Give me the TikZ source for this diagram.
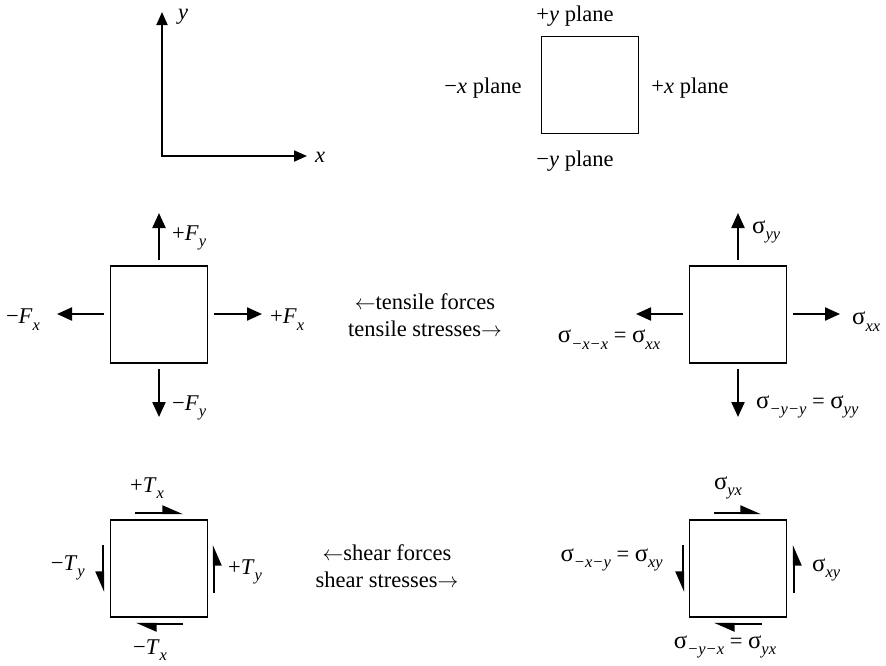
\documentclass[tikz,border=0pt]{standalone}
\usepackage{fontspec}
\setmainfont{Liberation Serif}
\usetikzlibrary{arrows.meta}
\newcommand{\sbs}[1]{\raisebox{-0.3em}{\fontsize{16.5}{17}\selectfont\itshape #1}}
\newcommand{\sig}{\scalebox{1.1}{σ}}
\begin{document}
\begin{tikzpicture}[x=1pt,y=1pt,
  every node/.style={inner sep=0pt,font=\fontsize{22.5}{27}\selectfont},
  sq/.style={draw,line width=1.8pt,minimum size=97pt,inner sep=0pt},
  axisarr/.style={line width=1.8pt,{Triangle[length=13pt,width=11pt]}-{Triangle[length=13pt,width=11pt]}},
  force/.style={line width=2.2pt,-{Triangle[length=15pt,width=13pt]}},
  shl/.style={line width=2.2pt,-{Triangle[length=18pt,width=15pt,harpoon]}},
  shr/.style={line width=2.2pt,-{Triangle[length=18pt,width=15pt,harpoon,swap]}}]
\useasboundingbox (0,0) rectangle (886,-665);

% axes
\coordinate (O) at (162,-156);
\coordinate (YT) at (162,-12);
\coordinate (XT) at (307,-156);
\draw[axisarr] (YT) -- (O) -- (XT);
\node (ly) at (183,-17) {\textit{y}};
\node (lx) at (320,-157) {\textit{x}};

% planes
\node[sq] (P) at (590,-85) {};
\node (py) at (575,-16) {+\textit{y} plane};
\node (mx) at (483,-88) {−\textit{x} plane};
\node (px) at (690,-88) {+\textit{x} plane};
\node (my) at (575,-161) {−\textit{y} plane};

% tensile forces
\node[sq] (A) at (159,-314.5) {};
\coordinate (A1s) at (159,-260); \coordinate (A1e) at (159,-213);
\coordinate (A2s) at (214,-314); \coordinate (A2e) at (262,-314);
\coordinate (A3s) at (104,-314); \coordinate (A3e) at (57,-314);
\coordinate (A4s) at (159,-369); \coordinate (A4e) at (159,-417);
\draw[force] (A1s) -- (A1e);
\draw[force] (A2s) -- (A2e);
\draw[force] (A3s) -- (A3e);
\draw[force] (A4s) -- (A4e);
\node[anchor=west] (Fy) at (172,-238) {+\textit{F}\sbs{y}};
\node[anchor=west] (Fx) at (270,-320) {+\textit{F}\sbs{x}};
\node (mFx) at (23,-320) {−\textit{F}\sbs{x}};
\node[anchor=west] (mFy) at (172,-408) {−\textit{F}\sbs{y}};

\node[align=center] (tens) at (425,-315.5) {$\leftarrow$tensile forces\\tensile stresses$\rightarrow$};

% tensile stresses
\node[sq] (B) at (738,-314.5) {};
\coordinate (B1s) at (738,-260); \coordinate (B1e) at (738,-213);
\coordinate (B2s) at (793,-314); \coordinate (B2e) at (840,-314);
\coordinate (B3s) at (683,-314); \coordinate (B3e) at (636,-314);
\coordinate (B4s) at (738,-369); \coordinate (B4e) at (738,-417);
\draw[force] (B1s) -- (B1e);
\draw[force] (B2s) -- (B2e);
\draw[force] (B3s) -- (B3e);
\draw[force] (B4s) -- (B4e);
\node[anchor=west] (syy) at (752,-232) {\sig\sbs{yy}};
\node[anchor=west] (sxx) at (852,-322) {\sig\sbs{xx}};
\node (smxx) at (609,-340) {\sig\sbs{−x−x} = \sig\sbs{xx}};
\node[anchor=west] (smyy) at (756,-407) {\sig\sbs{−y−y} = \sig\sbs{yy}};

% shear forces
\node[sq] (C) at (159,-568.5) {};
\coordinate (C1s) at (135,-513); \coordinate (C1e) at (183,-513);
\coordinate (C2s) at (214,-593); \coordinate (C2e) at (214,-545);
\coordinate (C3s) at (103,-545); \coordinate (C3e) at (103,-592);
\coordinate (C4s) at (183,-624); \coordinate (C4e) at (136,-624);
\draw[shl] (C1s) -- (C1e);
\draw[shr] (C2s) -- (C2e);
\draw[shr] (C3s) -- (C3e);
\draw[shl] (C4s) -- (C4e);
\node (Tx) at (147,-488) {+\textit{T}\sbs{x}};
\node[anchor=west] (Ty) at (228,-572) {+\textit{T}\sbs{y}};
\node[anchor=east] (mTy) at (85,-568) {−\textit{T}\sbs{y}};
\node (mTx) at (150,-650) {−\textit{T}\sbs{x}};

\node[align=center] (shear) at (387,-566.5) {$\leftarrow$shear forces\\shear stresses$\rightarrow$};

% shear stresses
\node[sq] (D) at (738,-568.5) {};
\coordinate (D1s) at (714,-513); \coordinate (D1e) at (761,-513);
\coordinate (D2s) at (794,-593); \coordinate (D2e) at (794,-545);
\coordinate (D3s) at (683,-545); \coordinate (D3e) at (683,-592);
\coordinate (D4s) at (762,-624); \coordinate (D4e) at (714,-624);
\draw[shl] (D1s) -- (D1e);
\draw[shr] (D2s) -- (D2e);
\draw[shr] (D3s) -- (D3e);
\draw[shl] (D4s) -- (D4e);
\node (syx) at (728,-488) {\sig\sbs{yx}};
\node[anchor=west] (sxy) at (812,-570) {\sig\sbs{xy}};
\node[anchor=east] (smxy) at (663,-560) {\sig\sbs{−x−y} = \sig\sbs{xy}};
\node (smyx) at (725,-647) {\sig\sbs{−y−x} = \sig\sbs{yx}};
\end{tikzpicture}
\end{document}
